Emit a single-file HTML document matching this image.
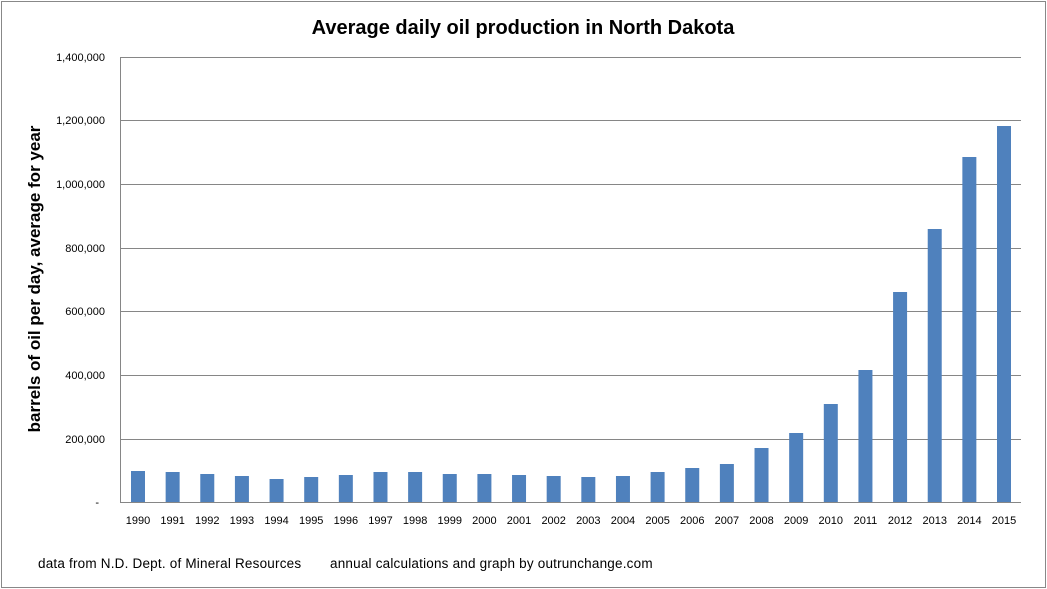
<!DOCTYPE html>
<html><head><style>body{margin:0;background:#fff}svg{display:block}</style></head><body>
<svg width="1047" height="589" xmlns="http://www.w3.org/2000/svg" font-family="Liberation Sans, sans-serif">
<rect x="1.5" y="1.5" width="1044" height="586" fill="#fff" stroke="#888"/>
<text x="523" y="34" font-size="20" font-weight="bold" text-anchor="middle">Average daily oil production in North Dakota</text>
<g stroke="#868686" stroke-width="1">
<line x1="120" y1="57.5" x2="1021" y2="57.5"/>
<line x1="120" y1="120.5" x2="1021" y2="120.5"/>
<line x1="120" y1="184.5" x2="1021" y2="184.5"/>
<line x1="120" y1="248.5" x2="1021" y2="248.5"/>
<line x1="120" y1="311.5" x2="1021" y2="311.5"/>
<line x1="120" y1="375.5" x2="1021" y2="375.5"/>
<line x1="120" y1="439.5" x2="1021" y2="439.5"/>
<line x1="120" y1="502.5" x2="1021" y2="502.5"/>
<line x1="120.5" y1="57" x2="120.5" y2="503"/>
</g>
<g font-size="11" text-anchor="end" fill="#000">
<text x="105" y="61">1,400,000</text>
<text x="105" y="124">1,200,000</text>
<text x="105" y="188">1,000,000</text>
<text x="105" y="252">800,000</text>
<text x="105" y="315">600,000</text>
<text x="105" y="379">400,000</text>
<text x="105" y="443">200,000</text>
<text x="99" y="506">-</text>
</g>
<text transform="translate(40,279) rotate(-90)" font-size="17" font-weight="bold" text-anchor="middle">barrels of oil per day, average for year</text>
<g fill="#4f81bd" id="bars"></g>
<g font-size="11" text-anchor="middle" id="labels"></g>
<text x="38" y="568" font-size="13.5" letter-spacing="0.2">data from N.D. Dept. of Mineral Resources</text>
<text x="330" y="568" font-size="13.5" letter-spacing="0.2">annual calculations and graph by outrunchange.com</text>
<script>
var h=[31,30,28,26,23,25,27,30,30,28,28,27,26,25,26,30,34,38,54,69,98,132,210,273,345,376];
var b=document.getElementById('bars'),l=document.getElementById('labels'),ns='http://www.w3.org/2000/svg';
for(var i=0;i<26;i++){var cx=138+i*34.64;var r=document.createElementNS(ns,'rect');
r.setAttribute('x',cx-7);r.setAttribute('width',14);r.setAttribute('y',502-h[i]);r.setAttribute('height',h[i]);b.appendChild(r);
var t=document.createElementNS(ns,'text');t.setAttribute('x',cx);t.setAttribute('y',524);t.textContent=1990+i;l.appendChild(t);}
</script>
</svg>
</body></html>
